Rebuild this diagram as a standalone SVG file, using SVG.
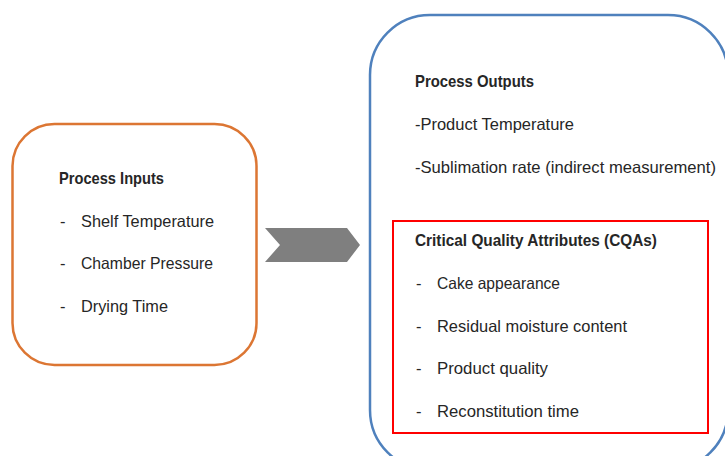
<svg xmlns="http://www.w3.org/2000/svg" width="725" height="456" viewBox="0 0 725 456">
  <style>
    text { font-family: "Liberation Sans", Arial, sans-serif; font-size: 16.5px; fill: #262626; }
    .title { font-weight: bold; }
    .inputs { fill: #ffffff; stroke: #DC7633; stroke-width: 2.5; }
    .outputs { fill: #ffffff; stroke: #4F81BD; stroke-width: 2.5; }
    .cqa { fill: none; stroke: #FF0000; stroke-width: 2; }
    .chevron { fill: #7F7F7F; }
  </style>
  <rect width="725" height="456" fill="#ffffff"/>

  <!-- Process inputs block -->
  <g id="process-inputs">
    <rect class="inputs" x="12.5" y="124" width="244" height="241" rx="42" ry="42"/>
    <text class="title" x="59" y="184" textLength="105" lengthAdjust="spacingAndGlyphs">Process Inputs</text>
    <text x="60" y="227">-</text>
    <text x="81" y="227" textLength="133" lengthAdjust="spacingAndGlyphs">Shelf Temperature</text>
    <text x="60" y="269">-</text>
    <text x="81" y="269" textLength="132" lengthAdjust="spacingAndGlyphs">Chamber Pressure</text>
    <text x="60" y="312">-</text>
    <text x="81" y="312" textLength="87" lengthAdjust="spacingAndGlyphs">Drying Time</text>
  </g>

  <!-- Flow from inputs to outputs -->
  <g id="connectors">
    <polygon class="chevron" points="265,228 347,228 360,245 347,262 265,262 280,245"/>
  </g>

  <!-- Process outputs block (runs past the canvas edge) -->
  <g id="process-outputs">
    <rect class="outputs" x="370" y="15" width="358" height="455" rx="60" ry="60"/>
    <text class="title" x="415" y="87" textLength="119" lengthAdjust="spacingAndGlyphs">Process Outputs</text>
    <text x="415" y="130" textLength="159" lengthAdjust="spacingAndGlyphs">-Product Temperature</text>
    <text x="415" y="173" textLength="301" lengthAdjust="spacingAndGlyphs">-Sublimation rate (indirect measurement)</text>
  </g>

  <!-- Critical quality attributes, boxed in red -->
  <g id="cqas">
    <rect class="cqa" x="393" y="221" width="315" height="212"/>
    <text class="title" x="415" y="246" textLength="242" lengthAdjust="spacingAndGlyphs">Critical Quality Attributes (CQAs)</text>
    <text x="416" y="289">-</text>
    <text x="437" y="289" textLength="123" lengthAdjust="spacingAndGlyphs">Cake appearance</text>
    <text x="416" y="332">-</text>
    <text x="437" y="332" textLength="190" lengthAdjust="spacingAndGlyphs">Residual moisture content</text>
    <text x="416" y="374">-</text>
    <text x="437" y="374" textLength="111" lengthAdjust="spacingAndGlyphs">Product quality</text>
    <text x="416" y="417">-</text>
    <text x="437" y="417" textLength="142" lengthAdjust="spacingAndGlyphs">Reconstitution time</text>
  </g>
</svg>
